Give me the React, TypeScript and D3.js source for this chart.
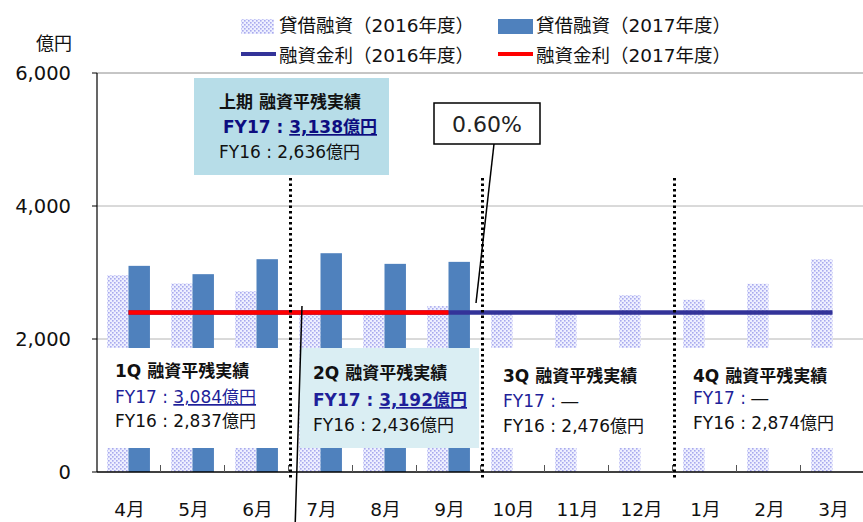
import React from "react";
import * as d3 from "d3";

const months = ["4月", "5月", "6月", "7月", "8月", "9月", "10月", "11月", "12月", "1月", "2月", "3月"];
const loans2016 = [2960, 2835, 2720, 2400, 2410, 2495, 2380, 2390, 2660, 2590, 2830, 3200];
const loans2017 = [3100, 2975, 3200, 3290, 3130, 3160];
const rate2016 = [0.6, 0.6, 0.6, 0.6, 0.6, 0.6, 0.6, 0.6, 0.6, 0.6, 0.6, 0.6];
const rate2017 = [0.6, 0.6, 0.6, 0.6, 0.6, 0.6];
const yTicks = [0, 2000, 4000, 6000];
const legendLabels = ["貸借融資（2016年度）", "貸借融資（2017年度）", "融資金利（2016年度）", "融資金利（2017年度）"];
const quarterTitles = ["1Q 融資平残実績", "2Q 融資平残実績", "3Q 融資平残実績", "4Q 融資平残実績"];
const quarterFY17 = ["3,084億円", "3,192億円", "", ""];
const quarterFY16 = ["2,837億円", "2,436億円", "2,476億円", "2,874億円"];
const halfTitle = "上期 融資平残実績";
const halfFY17 = "3,138億円";
const halfFY16 = "2,636億円";
const calloutRate = "0.60%";

const W = 863;
const H = 522;
const FONT = "'DejaVu Sans', 'Noto Sans CJK JP', sans-serif";
const C17 = "#4f81bd";
const NAVY = "#333399";
const RED = "#ff0000";
const TXTBLUE = "#1f1f99";

export default function App() {
  const x = d3.scaleBand<string>().domain(months).range([96.5, 864.5]).paddingInner(0.33).paddingOuter(0.165);
  const x1 = d3.scaleBand<string>().domain(["a", "b"]).range([0, x.bandwidth()]);
  const y = d3.scaleLinear().domain([0, 6000]).range([472, 73]);
  const yr = d3.scaleLinear().domain([0, 1.5]).range([472, 73]);
  const cx = (m: string) => (x(m) as number) + x.bandwidth() / 2;
  const step = x.step();
  const bound = (i: number) => 96.5 + step * i;

  const line16 = d3.line<number>().x((_, i) => cx(months[i])).y((d) => yr(d))(rate2016) as string;
  const line17 = d3.line<number>().x((_, i) => cx(months[i])).y((d) => yr(d))(rate2017) as string;

  const quarterPos = [
    { bx: 100, bw: 188, tx: 115, b: [377, 403, 427], fill: "#ffffff", bold: false },
    { bx: 300, bw: 179, tx: 313, b: [379, 406, 431], fill: "#daeef3", bold: true },
    { bx: 487, bw: 186, tx: 503, b: [382, 407, 432], fill: "#ffffff", bold: false },
    { bx: 679, bw: 184, tx: 693, b: [382, 404, 429], fill: "#ffffff", bold: false },
  ];

  return (
    <svg width={W} height={H} style={{ position: "absolute", left: 0, top: 0, background: "#fff" }} fontFamily={FONT}>
      <defs>
        <pattern id="dots16" width="4" height="4" patternUnits="userSpaceOnUse">
          <rect width="4" height="4" fill="#eef0ff" />
          <rect x="0" y="0" width="1.6" height="1.6" fill="#a9aaee" />
          <rect x="2" y="2" width="1.6" height="1.6" fill="#a9aaee" />
        </pattern>
      </defs>
      <rect width={W} height={H} fill="#fff" />

      {/* gridlines */}
      {yTicks.filter((t) => t > 0).map((t) => (
        <line key={t} x1={97} x2={W} y1={y(t)} y2={y(t)} stroke={t === 6000 ? "#8c8c8c" : "#b4b4b4"} strokeWidth={1} />
      ))}

      {/* bars */}
      {loans2016.map((v, i) => (
        <rect key={"a" + i} x={(x(months[i]) as number) + (x1("a") as number)} y={y(v)} width={x1.bandwidth()} height={y(0) - y(v)} fill="url(#dots16)" />
      ))}
      {loans2017.map((v, i) => (
        <rect key={"b" + i} x={(x(months[i]) as number) + (x1("b") as number)} y={y(v)} width={x1.bandwidth()} height={y(0) - y(v)} fill={C17} />
      ))}

      {/* quarter boxes */}
      {quarterPos.map((q, i) => (
        <rect key={"qb" + i} x={q.bx} y={348} width={q.bw} height={100} fill={q.fill} />
      ))}

      {/* axes */}
      <line x1={97} x2={97} y1={y(6000)} y2={y(0)} stroke="#000" strokeWidth={1.2} />
      {yTicks.map((t) => (
        <line key={"yt" + t} x1={92} x2={97} y1={y(t)} y2={y(t)} stroke="#000" strokeWidth={1} />
      ))}
      <line x1={97} x2={W} y1={y(0)} y2={y(0)} stroke="#000" strokeWidth={1.4} />
      {months.map((m, i) => (i > 0 ? <line key={"xt" + i} x1={bound(i)} x2={bound(i)} y1={y(0) - 7} y2={y(0)} stroke="#555" strokeWidth={1} /> : null))}

      {/* rate lines */}
      <path d={line16} fill="none" stroke={NAVY} strokeWidth={4.5} />
      <path d={line17} fill="none" stroke={RED} strokeWidth={4.5} />

      {/* quarter separators */}
      {[3, 6, 9].map((i) => (
        <line key={"sep" + i} x1={bound(i) + 2} x2={bound(i) + 2} y1={178} y2={478} stroke="#000" strokeWidth={3} strokeDasharray="2.5 3" />
      ))}

      {/* y labels */}
      {yTicks.map((t) => (
        <text key={"yl" + t} x={71} y={y(t) + 7} textAnchor="end" fontSize={19.5} fill="#111">
          {d3.format(",")(t)}
        </text>
      ))}
      <text x={72} y={50} textAnchor="end" fontSize={18} fill="#111">億円</text>

      {/* x labels */}
      {months.map((m) => (
        <text key={"xl" + m} x={cx(m) + 1} y={516} textAnchor="middle" fontSize={18.5} fill="#111">{m}</text>
      ))}

      {/* legend */}
      <rect x={241} y={19} width={33} height={15} fill="url(#dots16)" />
      <text x={279} y={32} fontSize={18.5} fill="#111">{legendLabels[0]}</text>
      <rect x={498} y={19} width={35} height={15} fill={C17} />
      <text x={536} y={32} fontSize={18.5} fill="#111">{legendLabels[1]}</text>
      <line x1={241} x2={276} y1={54} y2={54} stroke={NAVY} strokeWidth={4} />
      <text x={279} y={62} fontSize={18.5} fill="#111">{legendLabels[2]}</text>
      <line x1={498} x2={533} y1={54} y2={54} stroke={RED} strokeWidth={4} />
      <text x={536} y={62} fontSize={18.5} fill="#111">{legendLabels[3]}</text>

      {/* half-year box */}
      <rect x={194} y={78} width={195} height={97} fill="#b7dde8" />
      <text x={219} y={108} fontSize={17} fontWeight="bold" fill="#111">{halfTitle}</text>
      <text x={223} y={133} fontSize={17} fontWeight="bold" fill="#0d0d80">
        FY17 : <tspan style={{ textDecoration: "underline" }}>{halfFY17}</tspan>
      </text>
      <text x={219} y={158} fontSize={17} fill="#111">FY16 : {halfFY16}</text>

      {/* rate callout */}
      <rect x={434} y={103} width={106} height={41} fill="#fff" stroke="#000" strokeWidth={1.5} />
      <text x={487} y={132} textAnchor="middle" fontSize={22} fill="#222">{calloutRate}</text>
      <line x1={494} y1={144} x2={476} y2={303} stroke="#000" strokeWidth={1.5} />
      <line x1={302} y1={306} x2={295} y2={530} stroke="#000" strokeWidth={1.5} />

      {/* quarter texts */}
      {quarterPos.map((q, i) => (
        <g key={"qt" + i}>
          <text x={q.tx} y={q.b[0]} fontSize={17} fontWeight="bold" fill="#111">{quarterTitles[i]}</text>
          <text x={q.tx} y={q.b[1]} fontSize={17} fontWeight={q.bold ? "bold" : "normal"} fill={TXTBLUE}>
            FY17 : {quarterFY17[i] ? (
              <tspan style={{ textDecoration: "underline" }}>{quarterFY17[i]}</tspan>
            ) : (
              <tspan fill="#111">―</tspan>
            )}
          </text>
          <text x={q.tx} y={q.b[2]} fontSize={17} fill="#111">FY16 : {quarterFY16[i]}</text>
        </g>
      ))}
    </svg>
  );
}
